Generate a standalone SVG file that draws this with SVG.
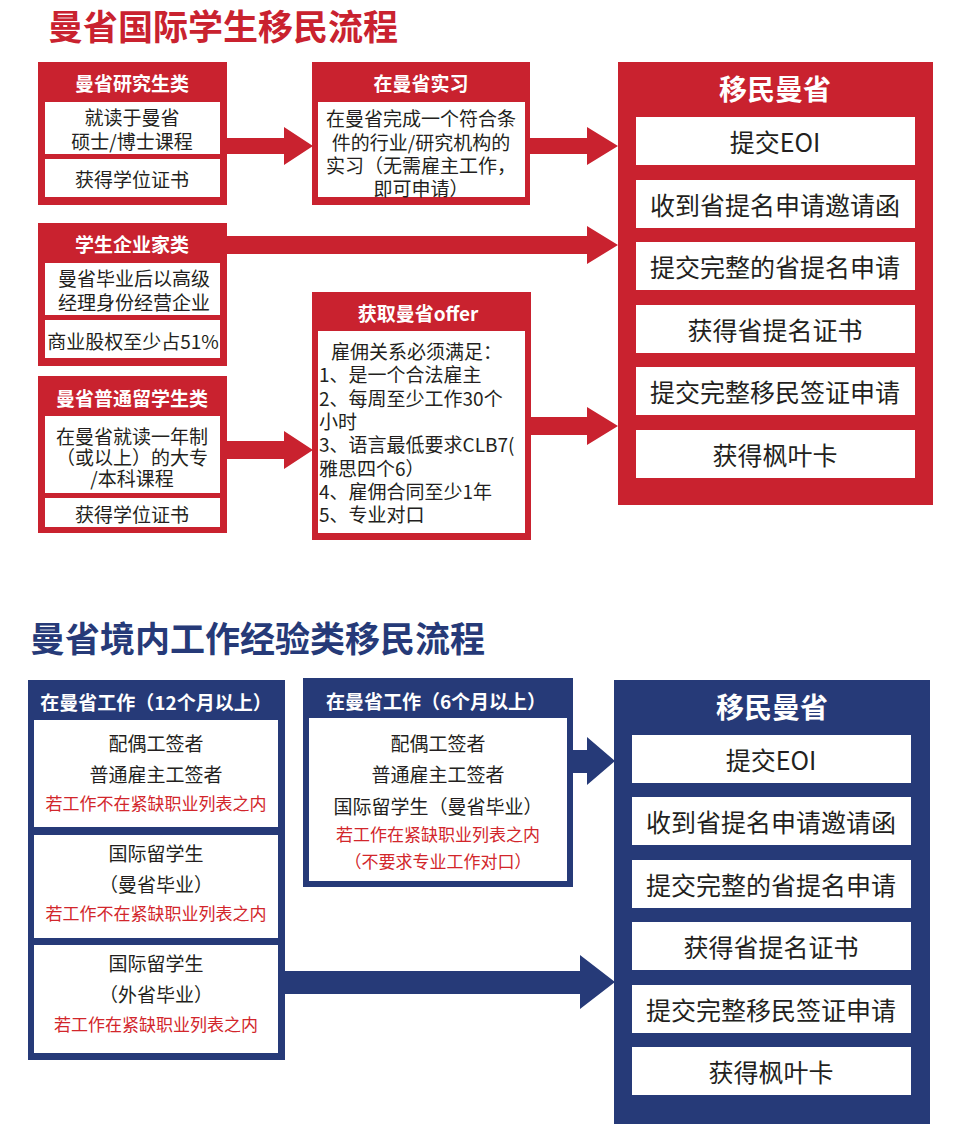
<svg xmlns="http://www.w3.org/2000/svg" width="962" height="1140" viewBox="0 0 962 1140">
<style>
text{font-family:"Noto Sans CJK SC","Noto Sans",sans-serif;dominant-baseline:central}
.red{fill:#c9222f}
.blue{fill:#263a78}
.wh{fill:#ffffff}
.title{font-size:35px;font-weight:bold}
.hd{font-size:19px;font-weight:bold;fill:#ffffff;text-anchor:middle}
.bt{font-size:19px;fill:#231f20;text-anchor:middle}
.bl{font-size:19px;fill:#231f20}
.rt{font-size:17px;fill:#d2262b;text-anchor:middle}
.big{font-size:28px;font-weight:bold;fill:#ffffff;text-anchor:middle}
.row{font-size:25px;fill:#231f20;text-anchor:middle}
</style>
<rect width="962" height="1140" fill="#ffffff"/>
<text x="48" y="24" class="title" fill="#c9222f">曼省国际学生移民流程</text>
<text x="30" y="636" class="title" fill="#263a78">曼省境内工作经验类移民流程</text>

<g id="connectors">
<polygon class="red" points="226,138 284,138 284,127 313,146 284,165 284,154 226,154"/>
<polygon class="red" points="529,138 587,138 587,127 618,146 587,165 587,154 529,154"/>
<polygon class="red" points="226,236 587,236 587,226 618,245 587,264 587,254 226,254"/>
<polygon class="red" points="226,441 284,441 284,431 313,450 284,469 284,459 226,459"/>
<polygon class="red" points="530,417 587,417 587,407 618,426 587,445 587,435 530,435"/>
<polygon class="blue" points="572,750 587,750 587,737 615,761 587,785 587,773 572,773"/>
<polygon class="blue" points="284,971 580,971 580,955 615,982 580,1009 580,994 284,994"/>
</g>

<g id="node-grad">
<rect class="red" x="38" y="62" width="189" height="143"/>
<text x="132" y="82" class="hd">曼省研究生类</text>
<rect class="wh" x="45" y="102" width="175" height="52"/>
<text x="132" y="116" class="bt">就读于曼省</text>
<text x="132" y="140" class="bt">硕士/博士课程</text>
<rect class="wh" x="45" y="159" width="175" height="38"/>
<text x="132" y="178" class="bt">获得学位证书</text>
</g>

<g id="node-intern">
<rect class="red" x="312" y="62" width="218" height="143"/>
<text x="421" y="82" class="hd">在曼省实习</text>
<rect class="wh" x="318" y="102" width="207" height="95"/>
<text x="421" y="117" class="bt">在曼省完成一个符合条</text>
<text x="421" y="141" class="bt">件的行业/研究机构的</text>
<text x="421" y="164" class="bt">实习（无需雇主工作，</text>
<text x="421" y="187" class="bt">即可申请）</text>
</g>

<g id="node-entre">
<rect class="red" x="38" y="223" width="189" height="143"/>
<text x="132" y="243" class="hd">学生企业家类</text>
<rect class="wh" x="45" y="263" width="175" height="52"/>
<text x="134" y="277" class="bt">曼省毕业后以高级</text>
<text x="134" y="301" class="bt">经理身份经营企业</text>
<rect class="wh" x="45" y="320" width="175" height="38"/>
<text x="133" y="340" class="bt">商业股权至少占51%</text>
</g>

<g id="node-general">
<rect class="red" x="38" y="376" width="189" height="157"/>
<text x="132" y="397" class="hd">曼省普通留学生类</text>
<rect class="wh" x="45" y="416" width="175" height="77"/>
<text x="132" y="435" class="bt">在曼省就读一年制</text>
<text x="132" y="456" class="bt">（或以上）的大专</text>
<text x="132" y="477" class="bt">/本科课程</text>
<rect class="wh" x="45" y="498" width="175" height="29"/>
<text x="132" y="513" class="bt">获得学位证书</text>
</g>

<g id="node-offer">
<rect class="red" x="312" y="292" width="219" height="248"/>
<text x="418" y="312" class="hd">获取曼省offer</text>
<rect class="wh" x="318" y="331" width="207" height="202"/>
<text x="331" y="350" class="bl">雇佣关系必须满足：</text>
<text x="319" y="373" class="bl">1、是一个合法雇主</text>
<text x="319" y="397" class="bl">2、每周至少工作30个</text>
<text x="319" y="420" class="bl">小时</text>
<text x="319" y="443" class="bl">3、语言最低要求CLB7(</text>
<text x="319" y="467" class="bl">雅思四个6）</text>
<text x="319" y="490" class="bl">4、雇佣合同至少1年</text>
<text x="319" y="513" class="bl">5、专业对口</text>
</g>

<g id="node-immig-red">
<rect class="red" x="618" y="62" width="315" height="443"/>
<text x="775" y="88" class="big">移民曼省</text>
<rect class="wh" x="636" y="117" width="279" height="48"/>
<text x="775" y="141" class="row">提交EOI</text>
<rect class="wh" x="636" y="180" width="279" height="48"/>
<text x="775" y="204" class="row">收到省提名申请邀请函</text>
<rect class="wh" x="636" y="242" width="279" height="48"/>
<text x="775" y="266" class="row">提交完整的省提名申请</text>
<rect class="wh" x="636" y="305" width="279" height="48"/>
<text x="775" y="329" class="row">获得省提名证书</text>
<rect class="wh" x="636" y="367" width="279" height="48"/>
<text x="775" y="391" class="row">提交完整移民签证申请</text>
<rect class="wh" x="636" y="430" width="279" height="48"/>
<text x="775" y="454" class="row">获得枫叶卡</text>
</g>

<g id="node-work12">
<rect class="blue" x="28" y="680" width="257" height="380"/>
<text x="156" y="701" class="hd">在曼省工作（12个月以上）</text>
<rect class="wh" x="34" y="720" width="244" height="107"/>
<text x="156" y="742" class="bt">配偶工签者</text>
<text x="156" y="773" class="bt">普通雇主工签者</text>
<text x="156" y="802" class="rt">若工作不在紧缺职业列表之内</text>
<rect class="wh" x="34" y="835" width="244" height="103"/>
<text x="156" y="852" class="bt">国际留学生</text>
<text x="156" y="883" class="bt">（曼省毕业）</text>
<text x="156" y="912" class="rt">若工作不在紧缺职业列表之内</text>
<rect class="wh" x="34" y="945" width="244" height="108"/>
<text x="156" y="962" class="bt">国际留学生</text>
<text x="156" y="993" class="bt">（外省毕业）</text>
<text x="156" y="1023" class="rt">若工作在紧缺职业列表之内</text>
</g>

<g id="node-work6">
<rect class="blue" x="303" y="678" width="270" height="209"/>
<text x="436" y="700" class="hd">在曼省工作（6个月以上）</text>
<rect class="wh" x="309" y="718" width="258" height="163"/>
<text x="438" y="742" class="bt">配偶工签者</text>
<text x="438" y="773" class="bt">普通雇主工签者</text>
<text x="438" y="805" class="bt">国际留学生（曼省毕业）</text>
<text x="438" y="833" class="rt">若工作在紧缺职业列表之内</text>
<text x="438" y="860" class="rt">（不要求专业工作对口）</text>
</g>

<g id="node-immig-blue">
<rect class="blue" x="614" y="680" width="316" height="444"/>
<text x="772" y="706" class="big">移民曼省</text>
<rect class="wh" x="632" y="735" width="279" height="48"/>
<text x="771" y="759" class="row">提交EOI</text>
<rect class="wh" x="632" y="797" width="279" height="48"/>
<text x="771" y="821" class="row">收到省提名申请邀请函</text>
<rect class="wh" x="632" y="860" width="279" height="48"/>
<text x="771" y="884" class="row">提交完整的省提名申请</text>
<rect class="wh" x="632" y="922" width="279" height="48"/>
<text x="771" y="946" class="row">获得省提名证书</text>
<rect class="wh" x="632" y="985" width="279" height="48"/>
<text x="771" y="1009" class="row">提交完整移民签证申请</text>
<rect class="wh" x="632" y="1047" width="279" height="48"/>
<text x="771" y="1071" class="row">获得枫叶卡</text>
</g>
</svg>
